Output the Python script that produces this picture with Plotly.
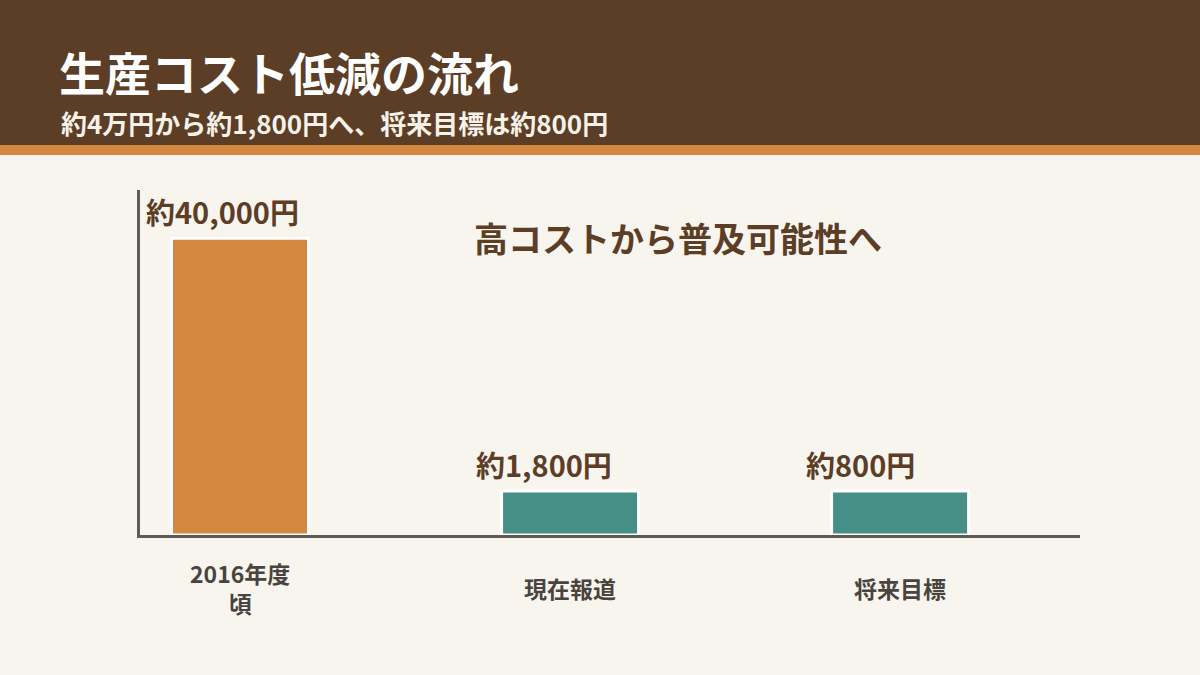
import plotly.graph_objects as go

# ---- data ----
categories = ["2016年度<br>頃", "現在報道", "将来目標"]
values = [40000, 1800, 800]
value_labels = ["約40,000円", "約1,800円", "約800円"]
bar_colors = ["#D4873F", "#468F87", "#468F87"]
title_text = "生産コスト低減の流れ"
subtitle_text = "約4万円から約1,800円へ、将来目標は約800円"
note_text = "高コストから普及可能性へ"

# small values get a minimum visible bar height (display only)
min_visible = max(values) * 0.148
display_values = [max(v, min_visible) for v in values]

W, H = 1200, 675
L, R, T, B = 140, 120, 190, 140
PW, PH = W - L - R, H - T - B

def px_x(x):
    return (x - L) / PW

def px_y(y):
    return (H - B - y) / PH

FONT = "Noto Sans CJK JP"
xs = list(range(len(categories)))

fig = go.Figure()
fig.add_trace(go.Bar(
    x=xs, y=display_values, width=0.415,
    marker=dict(color=bar_colors, line=dict(color="#FFFFFF", width=3)),
    hoverinfo="skip", showlegend=False,
))

shapes = [
    dict(type="rect", xref="paper", yref="paper", x0=px_x(0), x1=px_x(W),
         y0=px_y(145), y1=px_y(0), fillcolor="#5C3D26", line_width=0, layer="below"),
    dict(type="rect", xref="paper", yref="paper", x0=px_x(0), x1=px_x(W),
         y0=px_y(155), y1=px_y(145), fillcolor="#D4873E", line_width=0, layer="below"),
]

annotations = [
    dict(text=f"<b>{title_text}</b>", xref="paper", yref="paper", x=px_x(57), y=px_y(71),
         xanchor="left", yanchor="middle", showarrow=False,
         font=dict(family=FONT, size=46, color="#FFFFFF")),
    dict(text=f"<b>{subtitle_text}</b>", xref="paper", yref="paper", x=px_x(59), y=px_y(122),
         xanchor="left", yanchor="middle", showarrow=False,
         font=dict(family=FONT, size=26, color="#F7F1E8")),
    dict(text=f"<b>{note_text}</b>", xref="paper", yref="paper", x=px_x(678), y=px_y(237),
         xanchor="center", yanchor="middle", showarrow=False,
         font=dict(family=FONT, size=34, color="#5C3D26")),
]

for i, (lab, dv) in enumerate(zip(value_labels, display_values)):
    annotations.append(dict(
        text=f"<b>{lab}</b>", x=i - 0.29, y=dv, xref="x", yref="y",
        xanchor="left", yanchor="bottom", yshift=4, showarrow=False,
        font=dict(family=FONT, size=29, color="#5C3D26")))

for i, cat in enumerate(categories):
    annotations.append(dict(
        text=f"<b>{cat}</b>", x=i, y=px_y(588), xref="x", yref="paper",
        xanchor="center", yanchor="middle", showarrow=False,
        font=dict(family=FONT, size=23, color="#4A4440")))

fig.update_layout(
    width=W, height=H,
    margin=dict(l=L, r=R, t=T, b=B),
    paper_bgcolor="#F8F5EF", plot_bgcolor="#F8F5EF",
    shapes=shapes, annotations=annotations,
    xaxis=dict(range=[-0.303, 2.545], showline=True, linecolor="#5F5B57", linewidth=3,
               showgrid=False, zeroline=False, showticklabels=False, ticks="", fixedrange=True),
    yaxis=dict(range=[0, 46500], showline=True, linecolor="#5F5B57", linewidth=3,
               showgrid=False, zeroline=False, showticklabels=False, ticks="", fixedrange=True),
    font=dict(family=FONT),
)

fig.write_html("out.html")
